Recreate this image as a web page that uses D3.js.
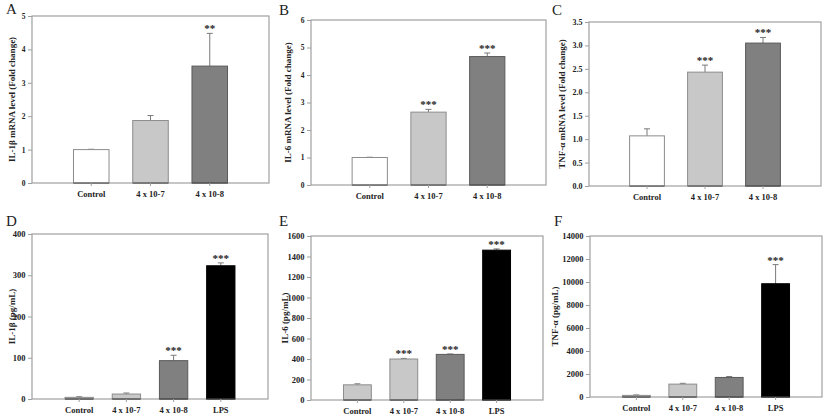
<!DOCTYPE html>
<html><head><meta charset="utf-8">
<script src="https://cdn.jsdelivr.net/npm/d3@7"></script>
<style>
html,body{margin:0;padding:0;background:#fff;}
svg{display:block;font-family:"Liberation Serif","Times New Roman",serif;}
</style></head>
<body>
<svg id="chart" width="827" height="415"></svg>
<script>
// ---------- data ----------
const catsTop = ["Control", "4 x 10-7", "4 x 10-8"];
const catsBottom = ["Control", "4 x 10-7", "4 x 10-8", "LPS"];

const il1bMrna = [1.0, 1.87, 3.5];
const il1bMrnaErr = [0.01, 0.15, 0.98];
const il1bMrnaStars = ["", "", "**"];

const il6Mrna = [1.0, 2.65, 4.67];
const il6MrnaErr = [0.01, 0.1, 0.13];
const il6MrnaStars = ["", "***", "***"];

const tnfMrna = [1.07, 2.43, 3.05];
const tnfMrnaErr = [0.15, 0.15, 0.12];
const tnfMrnaStars = ["", "***", "***"];

const il1bProt = [4, 12, 93, 323];
const il1bProtErr = [1.5, 2.5, 13, 7];
const il1bProtStars = ["", "", "***", "***"];

const il6Prot = [148, 400, 445, 1462];
const il6ProtErr = [10, 6, 4, 12];
const il6ProtStars = ["", "***", "***", "***"];

const tnfProt = [140, 1120, 1700, 9850];
const tnfProtErr = [40, 70, 80, 1660];
const tnfProtStars = ["", "", "", "***"];

const ticksA = [0, 1, 2, 3, 4, 5];
const ticksB = [0, 1, 2, 3, 4, 5, 6];
const ticksC = [0, 0.5, 1.0, 1.5, 2.0, 2.5, 3.0, 3.5];
const ticksD = [0, 100, 200, 300, 400];
const ticksE = [0, 200, 400, 600, 800, 1000, 1200, 1400, 1600];
const ticksF = [0, 2000, 4000, 6000, 8000, 10000, 12000, 14000];

const colorsTop = ["#ffffff", "#c8c8c8", "#808080"];
const colorsBottom = ["#c8c8c8", "#c8c8c8", "#808080", "#000000"];

// ---------- panels ----------
const panels = [
  {letter:"A", title:"IL-1β mRNA level (Fold change)", cats:catsTop, vals:il1bMrna, errs:il1bMrnaErr, stars:il1bMrnaStars, ticks:ticksA, fmt:d3.format("d"), colors:colorsTop,
   box:{l:32, r:269, t:16, b:183}, letterPos:[6,14], titleX:12, tickFs:7.5},
  {letter:"B", title:"IL-6 mRNA level (Fold change)", cats:catsTop, vals:il6Mrna, errs:il6MrnaErr, stars:il6MrnaStars, ticks:ticksB, fmt:d3.format("d"), colors:colorsTop,
   box:{l:311, r:546, t:20, b:185}, letterPos:[279,14.5], titleX:288, tickFs:7.5},
  {letter:"C", title:"TNF-α mRNA level (Fold change)", cats:catsTop, vals:tnfMrna, errs:tnfMrnaErr, stars:tnfMrnaStars, ticks:ticksC, fmt:d3.format(".1f"), colors:colorsTop,
   box:{l:589, r:821, t:22, b:186}, letterPos:[552,14.5], titleX:562, tickFs:8},
  {letter:"D", title:"IL-1β (pg/mL)", cats:catsBottom, vals:il1bProt, errs:il1bProtErr, stars:il1bProtStars, ticks:ticksD, fmt:d3.format("d"), colors:colorsBottom,
   box:{l:32, r:268, t:234, b:399}, letterPos:[6,225.5], titleX:12, tickFs:8.5},
  {letter:"E", title:"IL-6 (pg/mL)", cats:catsBottom, vals:il6Prot, errs:il6ProtErr, stars:il6ProtStars, ticks:ticksE, fmt:d3.format("d"), colors:colorsBottom,
   box:{l:311, r:543, t:236, b:400}, letterPos:[279,225.5], titleX:285, tickFs:8.5},
  {letter:"F", title:"TNF-α (pg/mL)", cats:catsBottom, vals:tnfProt, errs:tnfProtErr, stars:tnfProtStars, ticks:ticksF, fmt:d3.format("d"), colors:colorsBottom,
   box:{l:590, r:822, t:236, b:397}, letterPos:[554,225.5], titleX:555, tickFs:8.5}
];

const svg = d3.select("#chart");
svg.append("rect").attr("width",827).attr("height",415).attr("fill","#fff");

const axisColor = "#a0a0a0";

panels.forEach(p => {
  const g = svg.append("g");
  const b = p.box;
  const x = d3.scaleBand().domain(p.cats).range([b.l, b.r]).paddingInner(0.4).paddingOuter(0.7);
  const y = d3.scaleLinear().domain([p.ticks[0], p.ticks[p.ticks.length-1]]).range([b.b, b.t]);

  // frame
  g.append("rect").attr("x", b.l).attr("y", b.t).attr("width", b.r-b.l).attr("height", b.b-b.t)
    .attr("fill","none").attr("stroke", axisColor).attr("stroke-width",1.2);

  // bars
  p.cats.forEach((c,i) => {
    const col = p.colors[i];
    const stroke = col === "#000000" ? "#000" : (col === "#808080" ? "#5a5a5a" : "#8c8c8c");
    const bx = x(c), bw = x.bandwidth();
    const cx = bx + bw/2;
    const yTop = y(p.vals[i]);
    const yErr = y(p.vals[i] + p.errs[i]);
    // error bar
    g.append("line").attr("x1",cx).attr("x2",cx).attr("y1",yTop).attr("y2",yErr)
      .attr("stroke","#7a7a7a").attr("stroke-width",1);
    g.append("line").attr("x1",cx-3).attr("x2",cx+3).attr("y1",yErr).attr("y2",yErr)
      .attr("stroke","#7a7a7a").attr("stroke-width",1);
    g.append("rect").attr("x",bx).attr("y",yTop).attr("width",bw).attr("height",y(0)-yTop)
      .attr("fill",col).attr("stroke",stroke).attr("stroke-width",1);
    // bottom dark edge
    g.append("line").attr("x1",bx).attr("x2",bx+bw).attr("y1",y(0)).attr("y2",y(0))
      .attr("stroke","#4a4a4a").attr("stroke-width",1.2);
    if (p.stars[i]) {
      g.append("text").attr("x",cx).attr("y",yErr-1).attr("text-anchor","middle")
        .attr("font-size",11).attr("font-weight","bold").attr("fill","#222").text(p.stars[i]);
    }
  });

  // y axis
  const ya = g.append("g").attr("transform",`translate(${b.l},0)`)
    .call(d3.axisLeft(y).tickValues(p.ticks).tickFormat(p.fmt).tickSize(4).tickPadding(2.5));
  ya.select(".domain").remove();
  ya.selectAll("line").attr("stroke",axisColor);
  ya.selectAll("text").attr("font-size",p.tickFs).attr("font-weight","bold").attr("fill","#222")
    .attr("font-family","\"Liberation Serif\",serif");

  // x axis
  const xa = g.append("g").attr("transform",`translate(0,${b.b})`)
    .call(d3.axisBottom(x).tickSize(3).tickPadding(4.5));
  xa.select(".domain").remove();
  xa.selectAll("line").attr("stroke",axisColor);
  xa.selectAll("text").attr("font-size",8.5).attr("font-weight","bold").attr("fill","#222")
    .attr("font-family","\"Liberation Serif\",serif");

  // y title
  g.append("text").attr("transform",`translate(${p.titleX},${(b.t+b.b)/2}) rotate(-90)`)
    .attr("text-anchor","middle").attr("dy","0.35em").attr("font-size",9).attr("font-weight","bold")
    .attr("fill","#222").text(p.title);

  // panel letter
  g.append("text").attr("x",p.letterPos[0]).attr("y",p.letterPos[1]).attr("font-size",15)
    .attr("fill","#222").text(p.letter);
});
</script>
</body></html>
